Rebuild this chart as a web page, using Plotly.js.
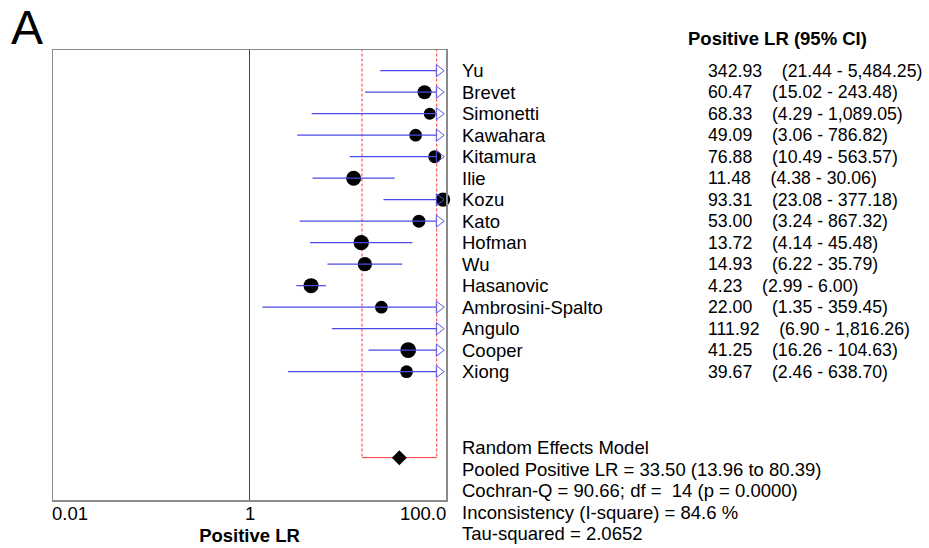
<!DOCTYPE html>
<html>
<head>
<meta charset="utf-8">
<script src="https://cdn.plot.ly/plotly-3.0.1.min.js"></script>
<style>html,body{margin:0;padding:0;background:#fff;}#chart{width:929px;height:548px;}</style>
</head>
<body>
<div id="chart"></div>
<script>
// ---- data ----
const studies = ['Yu','Brevet','Simonetti','Kawahara','Kitamura','Ilie','Kozu','Kato','Hofman','Wu','Hasanovic','Ambrosini-Spalto','Angulo','Cooper','Xiong'];
const positiveLR = [342.93, 60.47, 68.33, 49.09, 76.88, 11.48, 93.31, 53.00, 13.72, 14.93, 4.23, 22.00, 111.92, 41.25, 39.67];
const ciLower = [21.44, 15.02, 4.29, 3.06, 10.49, 4.38, 23.08, 3.24, 4.14, 6.22, 2.99, 1.35, 6.90, 16.26, 2.46];
const ciUpper = [5484.25, 243.48, 1089.05, 786.82, 563.57, 30.06, 377.18, 867.32, 45.48, 35.79, 6.00, 359.45, 1816.26, 104.63, 638.70];
const studyWeight = [12, 14, 12, 12.7, 13, 15, 14.3, 13, 15.3, 14.3, 15, 12.7, 12, 15.7, 12.7];
const pooledLR = 33.50, pooledLower = 13.96, pooledUpper = 80.39;
const cochranQ = '90.66', qDf = '14', qP = '0.0000', iSquare = '84.6', tauSquared = '2.0652';
const tickValues = [0.01, 1, 100];
const tickLabels = ['0.01', '1', '100.0'];

// ---- layout constants ----
const FONT = 'Liberation Sans, Arial, sans-serif';
const FS = 18.5;
const FS_VAL = 17.7;
const xRange = [-2, 2];
const yTop = -0.963, yBottom = 19.97;
const pooledRow = 18;
const arrowBase = Math.pow(10, xRange[1] - 0.097);
const arrowPos = Math.pow(10, xRange[1] - 0.072);
const xMax = Math.pow(10, xRange[1]);

function fmt(v) {
  return v.toLocaleString('en-US', {minimumFractionDigits: 2, maximumFractionDigits: 2});
}
// convert axis (log10 / row) units to paper units, for texts that sit outside the plot area
function px(logv) { return (logv - xRange[0]) / (xRange[1] - xRange[0]); }
function py(row) { return (yBottom - row) / (yBottom - yTop); }
const rows = studies.map((s, i) => i);

// dots
const dotX = positiveLR.map(v => v <= xMax ? v : null);
const dots = {
  type: 'scatter', mode: 'markers', x: dotX, y: rows, cliponaxis: false,
  marker: {symbol: 'circle', color: '#000', opacity: 1, size: studyWeight, line: {width: 0}},
  hoverinfo: 'skip'
};
// whiskers
const wx = [], wy = [];
rows.forEach(i => {
  wx.push(ciLower[i], Math.min(ciUpper[i], arrowBase), null);
  wy.push(i, i, null);
});
const whiskers = {
  type: 'scatter', mode: 'lines', x: wx, y: wy,
  line: {color: '#4a4ae6', width: 1.2}, hoverinfo: 'skip'
};
// arrows
const arrowRows = rows.filter(i => ciUpper[i] > xMax);
const arrows = {
  type: 'scatter', mode: 'markers', x: arrowRows.map(() => arrowPos), y: arrowRows, cliponaxis: false,
  marker: {symbol: 'triangle-right-open', color: '#5a5ae8', opacity: 1, size: 10.5, line: {width: 1, color: '#5a5ae8'}},
  hoverinfo: 'skip'
};
// reference line at 1
const refLine = {
  type: 'scatter', mode: 'lines', x: [1, 1], y: [yTop - 1, yBottom + 1],
  line: {color: '#444', width: 1}, hoverinfo: 'skip'
};
// pooled CI box
const pooledDash = {
  type: 'scatter', mode: 'lines',
  x: [pooledLower, pooledLower, null, pooledUpper, pooledUpper],
  y: [yTop - 1, pooledRow, null, yTop - 1, pooledRow],
  line: {color: '#ff3333', width: 1, dash: '3px,2px'}, hoverinfo: 'skip'
};
const pooledBase = {
  type: 'scatter', mode: 'lines', x: [pooledLower, pooledUpper], y: [pooledRow, pooledRow],
  line: {color: '#ff3333', width: 1}, hoverinfo: 'skip'
};
const diamond = {
  type: 'scatter', mode: 'markers', x: [pooledLR], y: [pooledRow],
  marker: {symbol: 'diamond', color: '#000', size: 11.5}, hoverinfo: 'skip'
};

const ann = [];
const nameX = px(2.145), valX = px(4.645);
const txtFont = {family: FONT, size: FS, color: '#000'};
const valFont = {family: FONT, size: FS_VAL, color: '#000'};
studies.forEach((s, i) => {
  ann.push({xref: 'paper', yref: 'paper', x: nameX, y: py(i), text: s, showarrow: false, xanchor: 'left', yanchor: 'middle', font: txtFont});
  ann.push({xref: 'paper', yref: 'paper', x: valX, y: py(i),
    text: fmt(positiveLR[i]) + '\u00A0\u00A0\u00A0\u00A0(' + fmt(ciLower[i]) + ' - ' + fmt(ciUpper[i]) + ')',
    showarrow: false, xanchor: 'left', yanchor: 'middle', font: valFont});
});
ann.push({xref: 'paper', yref: 'paper', x: px(4.44), y: py(-1.52), text: '<b>Positive LR (95% CI)</b>', showarrow: false,
  xanchor: 'left', yanchor: 'middle', font: txtFont});
const footer = [
  'Random Effects Model',
  'Pooled Positive LR = ' + fmt(pooledLR) + ' (' + fmt(pooledLower) + ' to ' + fmt(pooledUpper) + ')',
  'Cochran-Q = ' + cochranQ + '; df = \u00A0' + qDf + ' (p = ' + qP + ')',
  'Inconsistency (I-square) = ' + iSquare + ' %',
  'Tau-squared = ' + tauSquared
];
footer.forEach((t, k) => {
  ann.push({xref: 'paper', yref: 'paper', x: nameX, y: py(17.55 + k), text: t, showarrow: false, xanchor: 'left', yanchor: 'middle', font: txtFont});
});
// tick labels
const anchors = ['left', 'center', 'right'];
const shifts = [-3, 0, 2];
tickValues.forEach((v, k) => {
  ann.push({xref: 'paper', yref: 'paper', x: px(Math.log10(v)), y: -0.031, xshift: shifts[k], text: tickLabels[k], showarrow: false,
    xanchor: anchors[k], yanchor: 'middle', font: txtFont});
});
// panel letter
ann.push({xref: 'paper', yref: 'paper', x: -0.112, y: 1.113, text: 'A', showarrow: false, xanchor: 'left', yanchor: 'top',
  font: {family: FONT, size: 48, color: '#000'}});

const layout = {
  width: 929, height: 548, autosize: false,
  margin: {l: 53, r: 483, t: 50, b: 48, pad: 0},
  paper_bgcolor: '#fff', plot_bgcolor: '#fff', showlegend: false,
  xaxis: {type: 'log', range: xRange, showline: true, mirror: true, linecolor: '#8a8a8a', linewidth: 1.5,
    showgrid: false, zeroline: false, ticks: '', showticklabels: false, fixedrange: true,
    title: {text: '<b>Positive LR</b>', font: txtFont, standoff: 28}},
  yaxis: {range: [yBottom, yTop], showline: true, mirror: true, linecolor: '#8a8a8a', linewidth: 1.5,
    showgrid: false, zeroline: false, ticks: '', showticklabels: false, fixedrange: true},
  annotations: ann
};

Plotly.newPlot('chart', [refLine, pooledDash, pooledBase, dots, whiskers, arrows, diamond], layout,
  {staticPlot: true, displayModeBar: false});
</script>
</body>
</html>
